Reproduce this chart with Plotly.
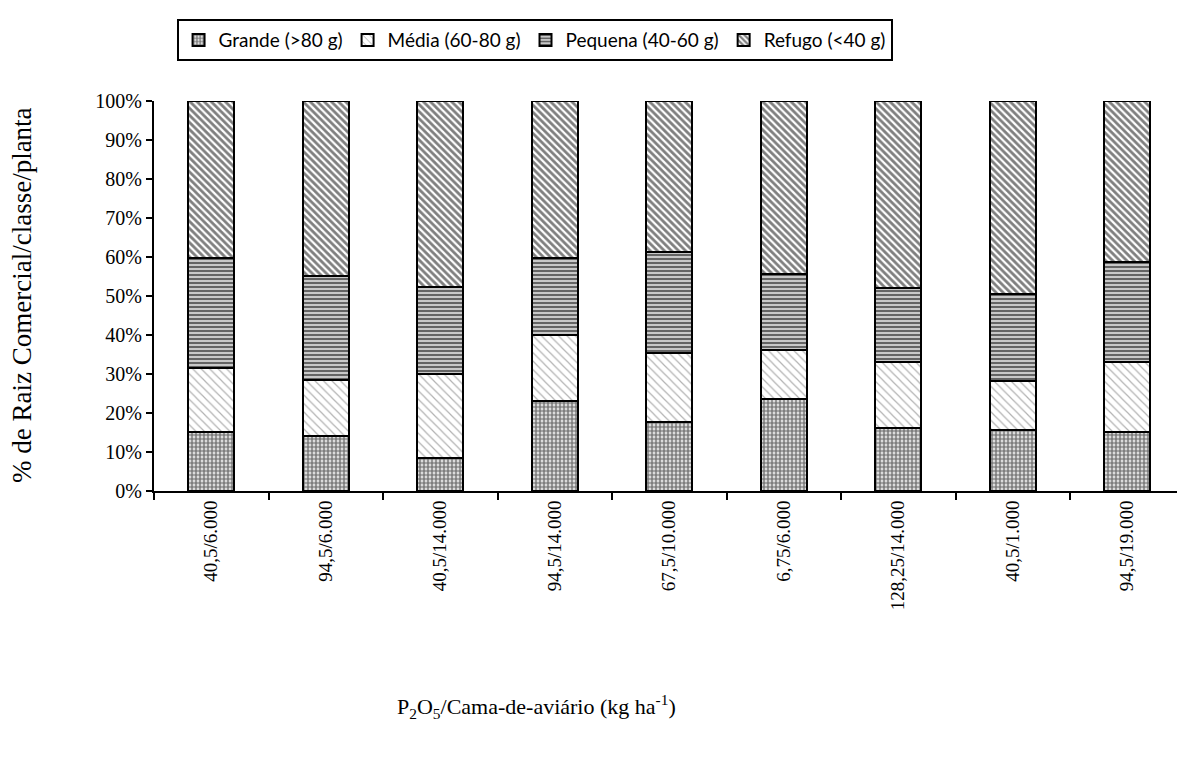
import plotly.graph_objects as go

categories = ["40,5/6.000", "94,5/6.000", "40,5/14.000", "94,5/14.000", "67,5/10.000",
              "6,75/6.000", "128,25/14.000", "40,5/1.000", "94,5/19.000"]
# cumulative tops (percent)
grande_top = [15.2, 14.2, 8.5, 23.1, 17.6, 23.5, 16.2, 15.6, 15.2]
media_top = [31.6, 28.5, 29.9, 40.0, 35.3, 36.2, 33.0, 28.2, 33.0]
pequena_top = [59.7, 55.2, 52.3, 59.8, 61.2, 55.7, 52.1, 50.5, 58.8]

grande = grande_top
media = [m - g for m, g in zip(media_top, grande_top)]
pequena = [p - m for p, m in zip(pequena_top, media_top)]
refugo = [100 - p for p in pequena_top]

series_names = ["Grande (>80 g)", "Média (60-80 g)", "Pequena (40-60 g)", "Refugo (<40 g)"]
series_values = [grande, media, pequena, refugo]
y_tickvals = list(range(0, 101, 10))
y_ticktext = [f"{v}%" for v in y_tickvals]

patterns = [
    dict(shape=".", fgcolor="black", bgcolor="white", size=4, solidity=0.7),
    dict(shape="\\", fgcolor="#666666", bgcolor="white", size=6, solidity=0.2),
    dict(shape="-", fgcolor="black", bgcolor="#c8c8c8", size=4, solidity=0.5),
    dict(shape="\\", fgcolor="black", bgcolor="white", size=5, solidity=0.55),
]

fig = go.Figure()
for name, vals, pat in zip(series_names, series_values, patterns):
    fig.add_trace(go.Bar(
        x=categories, y=vals, name=name, width=0.4,
        marker=dict(color="white", pattern=pat, line=dict(color="black", width=2)),
    ))

serif = "Liberation Serif, Times New Roman, serif"
fig.update_layout(
    barmode="stack",
    width=1177, height=765,
    margin=dict(l=154, r=0, t=101, b=274),
    plot_bgcolor="white", paper_bgcolor="white",
    showlegend=True,
    legend=dict(orientation="h", x=0.372, xanchor="center", y=1.21, yanchor="top",
                bordercolor="black", borderwidth=2,
                font=dict(family="Lato, Open Sans, sans-serif", size=19, color="black"),
                itemwidth=30, traceorder="normal"),
    xaxis=dict(type="category", range=[-0.5, 8.434], tickangle=-90,
               showline=True, linecolor="black", linewidth=2,
               ticks="outside", ticklen=7, tickwidth=2, tickcolor="black",
               tickson="boundaries",
               tickfont=dict(family=serif, size=19, color="black")),
    yaxis=dict(range=[0, 100], tickvals=y_tickvals, ticktext=y_ticktext,
               showline=True, linecolor="black", linewidth=2, showgrid=False, zeroline=False,
               ticks="outside", ticklen=6, tickwidth=2, tickcolor="black",
               tickfont=dict(family=serif, size=20, color="black")),
    annotations=[
        dict(text="% de Raiz Comercial/classe/planta", xref="paper", yref="paper",
             x=(22 - 154) / 1023, y=(491 - 295) / 390, textangle=-90, showarrow=False,
             xanchor="center", yanchor="middle",
             font=dict(family=serif, size=27, color="black")),
        dict(text="P<sub>2</sub>O<sub>5</sub>/Cama-de-aviário (kg ha<sup>-1</sup>)",
             xref="paper", yref="paper", x=(536 - 154) / 1023, y=(491 - 706) / 390,
             showarrow=False, xanchor="center", yanchor="middle",
             font=dict(family=serif, size=22, color="black")),
    ],
)

fig.write_html("out.html")
